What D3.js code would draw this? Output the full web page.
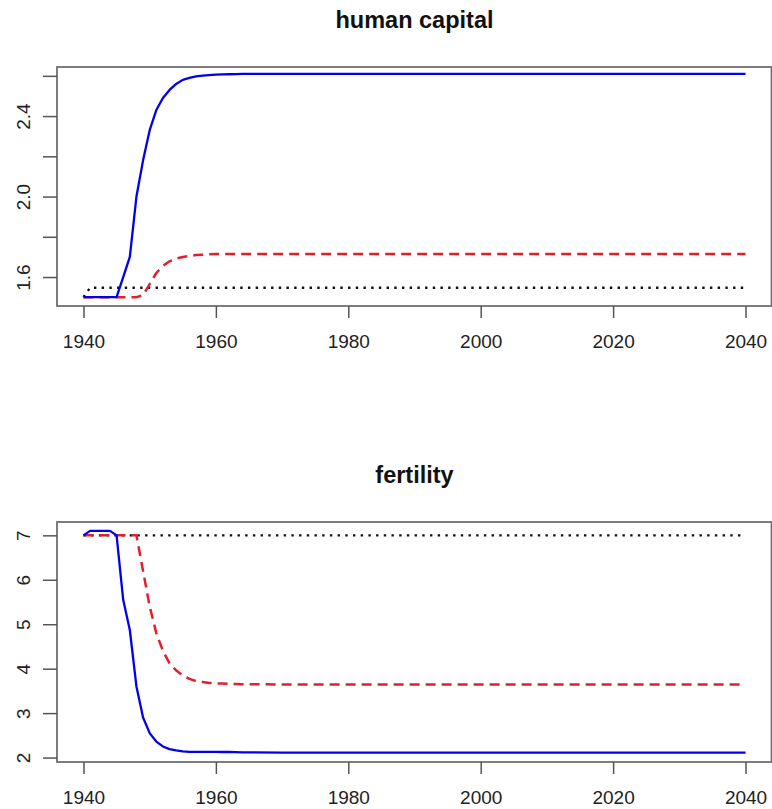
<!DOCTYPE html>
<html>
<head>
<meta charset="utf-8">
<script src="https://cdn.jsdelivr.net/npm/d3@7"></script>
<style>
    body { margin: 0; background: #fff; }
    text { font-family: "Liberation Sans", Arial, sans-serif; }
</style>
</head>
<body>
<div id="chart"></div>
<script>
var years = [1940, 1941, 1942, 1943, 1944, 1945, 1946, 1947, 1948, 1949, 1950,
    1951, 1952, 1953, 1954, 1955, 1956, 1957, 1958, 1959, 1960, 1961, 1962,
    1963, 1964, 1965, 1970, 1980, 1990, 2000, 2010, 2020, 2030, 2040];

// human capital
var hcBlue = [1.5, 1.5, 1.5, 1.5, 1.5, 1.5, 1.6, 1.7, 2.0, 2.18, 2.33,
    2.43, 2.49, 2.53, 2.56, 2.58, 2.59, 2.597, 2.601, 2.604, 2.606, 2.607, 2.608,
    2.609, 2.61, 2.61, 2.61, 2.61, 2.61, 2.61, 2.61, 2.61, 2.61, 2.61];
var hcRed = [1.5, 1.5, 1.5, 1.5, 1.5, 1.5, 1.5, 1.5, 1.5, 1.51, 1.565,
    1.62, 1.655, 1.678, 1.692, 1.7, 1.705, 1.709, 1.711, 1.713, 1.714, 1.715, 1.715,
    1.715, 1.715, 1.715, 1.715, 1.715, 1.715, 1.715, 1.715, 1.715, 1.715, 1.715];
var hcBlack = [1.5, 1.547, 1.547, 1.547, 1.547, 1.547, 1.547, 1.547, 1.547, 1.547, 1.547,
    1.547, 1.547, 1.547, 1.547, 1.547, 1.547, 1.547, 1.547, 1.547, 1.547, 1.547, 1.547,
    1.547, 1.547, 1.547, 1.547, 1.547, 1.547, 1.547, 1.547, 1.547, 1.547, 1.547];

// fertility
var fertBlue = [7.0, 7.1, 7.1, 7.1, 7.1, 7.0, 5.55, 4.87, 3.6, 2.9, 2.55,
    2.36, 2.25, 2.19, 2.16, 2.14, 2.13, 2.13, 2.128, 2.127, 2.126, 2.125, 2.125,
    2.124, 2.118, 2.115, 2.113, 2.112, 2.112, 2.112, 2.112, 2.112, 2.112, 2.112];
var fertRed = [7.0, 7.0, 7.0, 7.0, 7.0, 7.0, 7.0, 7.0, 7.0, 6.2, 5.4,
    4.8, 4.4, 4.12, 3.96, 3.85, 3.77, 3.72, 3.7, 3.68, 3.67, 3.665, 3.66,
    3.655, 3.65, 3.65, 3.645, 3.642, 3.642, 3.642, 3.642, 3.642, 3.642, 3.642];
var fertBlack = [7.0, 7.0, 7.0, 7.0, 7.0, 7.0, 7.0, 7.0, 7.0, 7.0, 7.0,
    7.0, 7.0, 7.0, 7.0, 7.0, 7.0, 7.0, 7.0, 7.0, 7.0, 7.0, 7.0,
    7.0, 7.0, 7.0, 7.0, 7.0, 7.0, 7.0, 7.0, 7.0, 7.0, 7.0];

var xTicks = [1940, 1960, 1980, 2000, 2020, 2040];
var hcTicks = [1.6, 1.8, 2.0, 2.2, 2.4, 2.6];
var hcTickLabels = ['1.6', '', '2.0', '', '2.4', ''];
var fertTicks = [2, 3, 4, 5, 6, 7];
var fertTickLabels = ['2', '3', '4', '5', '6', '7'];

var width = 772, height = 809;

var svg = d3.select('#chart')
    .append('svg')
    .attr('width', width)
    .attr('height', height)
    .style('display', 'block');

/**
 * draws one panel: box, axes, title and the three series
 */
var drawPanel = function (opts) {
    var x = d3.scaleLinear().domain([1936, 2044]).range([57, 772]);
    var y = d3.scaleLinear().domain(opts.yDomain).range([opts.bottom, opts.top]);

    var g = svg.append('g');

    // title
    g.append('text')
        .attr('x', 414.5)
        .attr('y', opts.top - 39)
        .attr('text-anchor', 'middle')
        .style('font-size', '23.5px')
        .style('font-weight', 'bold')
        .style('fill', '#111')
        .text(opts.title);

    // series
    var series = [
        {values: opts.black, color: '#111', dash: '2.4,5.3', width: 2.4},
        {values: opts.red, color: '#e0202c', dash: '10,6', width: 2.5},
        {values: opts.blue, color: '#0000ee', dash: null, width: 2.3}
    ];

    var line = d3.line()
        .x(function (d) { return x(d[0]); })
        .y(function (d) { return y(d[1]); });

    series.forEach(function (s) {
        g.append('path')
            .datum(years.map(function (yr, i) { return [yr, s.values[i]]; }))
            .attr('d', line)
            .attr('fill', 'none')
            .attr('stroke', s.color)
            .attr('stroke-width', s.width)
            .attr('stroke-dasharray', s.dash)
            .attr('stroke-linejoin', 'round');
    });

    // box
    g.append('rect')
        .attr('x', 57)
        .attr('y', opts.top)
        .attr('width', 714.5)
        .attr('height', opts.bottom - opts.top)
        .attr('fill', 'none')
        .attr('stroke', '#707070')
        .attr('stroke-width', 1.8);

    // bottom axis
    var xAxis = g.append('g')
        .attr('transform', 'translate(0,' + opts.bottom + ')')
        .call(d3.axisBottom(x).tickValues(xTicks).tickSize(12).tickFormat(d3.format('d')));
    xAxis.select('.domain').remove();
    xAxis.selectAll('line').attr('stroke', '#555').attr('stroke-width', 1.5);
    xAxis.selectAll('text')
        .attr('y', 42)
        .attr('dy', 0)
        .style('font-size', '19px')
        .style('fill', '#222');

    // left axis, labels parallel to the axis
    var yAxis = g.append('g')
        .attr('transform', 'translate(57,0)')
        .call(d3.axisLeft(y).tickValues(opts.yTicks).tickSize(14)
            .tickFormat(function (d, i) { return opts.yLabels[i]; }));
    yAxis.select('.domain').remove();
    yAxis.selectAll('line').attr('stroke', '#555').attr('stroke-width', 1.5);
    yAxis.selectAll('text')
        .attr('transform', 'rotate(-90)')
        .attr('text-anchor', 'middle')
        .attr('x', 0)
        .attr('y', -27)
        .attr('dy', 0)
        .style('font-size', '19px')
        .style('fill', '#222');
};

drawPanel({
    title: 'human capital',
    top: 67, bottom: 306,
    yDomain: [1.456, 2.644],
    yTicks: hcTicks, yLabels: hcTickLabels,
    blue: hcBlue, red: hcRed, black: hcBlack
});

drawPanel({
    title: 'fertility',
    top: 522, bottom: 762,
    yDomain: [1.9, 7.3],
    yTicks: fertTicks, yLabels: fertTickLabels,
    blue: fertBlue, red: fertRed, black: fertBlack
});
</script>
</body>
</html>
